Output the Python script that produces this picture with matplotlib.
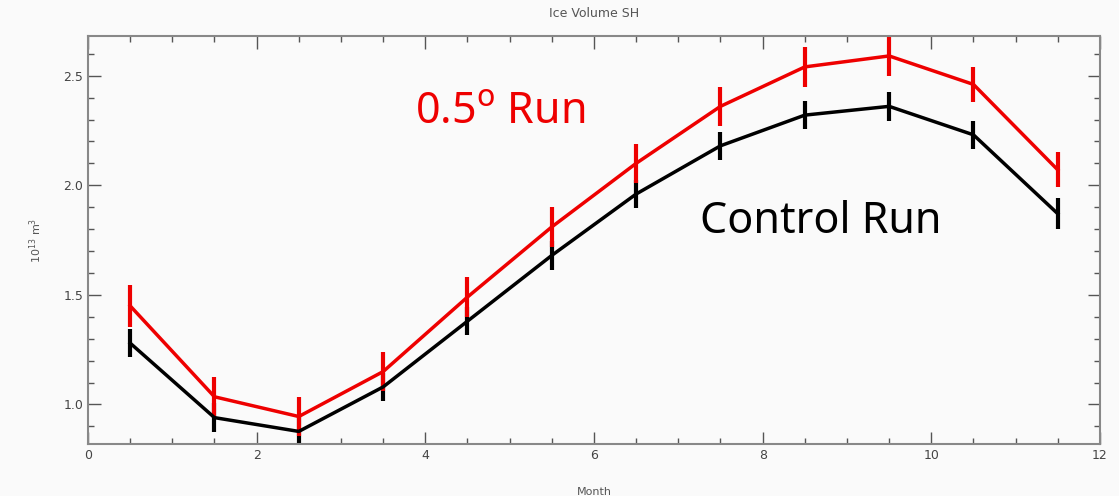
import numpy as np
import matplotlib.pyplot as plt
from matplotlib.ticker import MultipleLocator

# monthly means, SH ice volume
month = [0.5, 1.5, 2.5, 3.5, 4.5, 5.5, 6.5, 7.5, 8.5, 9.5, 10.5, 11.5]
run_05 = [1.45, 1.035, 0.945, 1.15, 1.49, 1.81, 2.10, 2.36, 2.54, 2.59, 2.46, 2.07]
err_05 = [0.095, 0.09, 0.09, 0.09, 0.09, 0.09, 0.09, 0.09, 0.09, 0.09, 0.08, 0.08]
control = [1.28, 0.94, 0.877, 1.08, 1.38, 1.68, 1.96, 2.18, 2.32, 2.36, 2.23, 1.87]
err_ctl = [0.065, 0.065, 0.065, 0.065, 0.065, 0.065, 0.065, 0.065, 0.065, 0.065, 0.065, 0.07]

fig = plt.figure(figsize=(11.19, 4.96), dpi=100)
fig.patch.set_facecolor('#fafafa')
ax = fig.add_axes([0.0786, 0.105, 0.9044, 0.822])
ax.set_facecolor('#fafafa')

ax.errorbar(month, control, yerr=err_ctl, color='black', lw=2.5, elinewidth=3, capsize=0)
ax.errorbar(month, run_05, yerr=err_05, color='#ee0000', lw=2.5, elinewidth=3, capsize=0)

ax.set_xlim(0, 12)
ax.set_ylim(0.82, 2.68)
ax.xaxis.set_major_locator(MultipleLocator(2))
ax.xaxis.set_minor_locator(MultipleLocator(0.5))
ax.yaxis.set_major_locator(MultipleLocator(0.5))
ax.yaxis.set_minor_locator(MultipleLocator(0.1))
ax.tick_params(which='both', direction='in', top=True, right=True, colors='#555555',
               labelsize=9, labelcolor='#444444')
ax.tick_params(which='major', length=9, width=1)
ax.tick_params(which='minor', length=4, width=1)
ax.set_yticks([1.0, 1.5, 2.0, 2.5])
ax.set_yticklabels(['1.0', '1.5', '2.0', '2.5'])
for s in ax.spines.values():
    s.set_color('#888888')
    s.set_linewidth(1.5)

ax.set_title('Ice Volume SH', fontsize=9, color='#555555', pad=14)
ax.set_xlabel('Month', fontsize=8, color='#555555', labelpad=18)
ax.set_ylabel(r'10$^{13}$ m$^3$', fontsize=8, color='#555555', labelpad=14)

ax.text(3.88, 2.28, r'0.5$^{\rm o}$ Run', color='#ee0000', fontsize=31, family='Noto Sans')
ax.text(7.26, 1.78, 'Control Run', color='black', fontsize=31, family='Noto Sans')

fig.savefig('out.png', dpi=100, facecolor=fig.get_facecolor())
